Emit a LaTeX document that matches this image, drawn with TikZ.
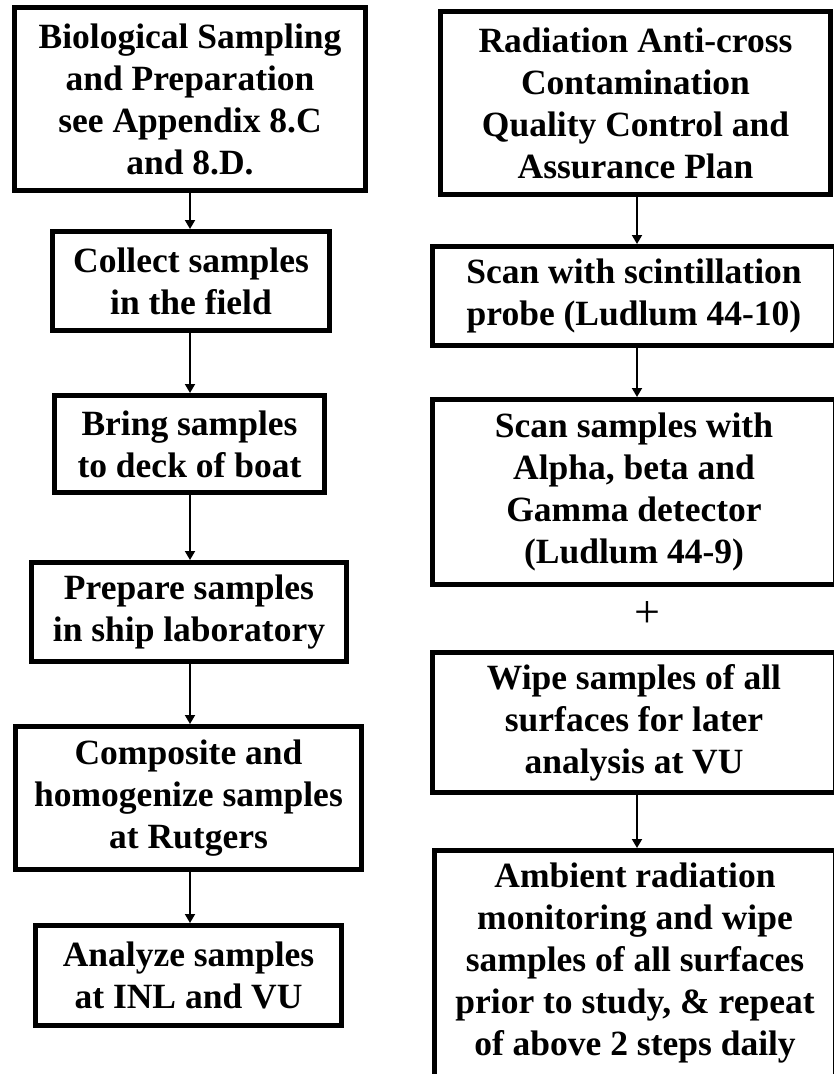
\documentclass[tikz,border=0pt]{standalone}
\usepackage{fontspec}
\setmainfont{Liberation Serif}
\usetikzlibrary{arrows.meta}
\tikzset{
  box/.style={draw=black, line width=5pt, align=center, inner sep=0pt,
    font=\bfseries\fontsize{35.5}{42}\selectfont},
  arr/.style={line width=1.8pt, -{Triangle[length=9pt,width=10pt]}},
  plus/.style={font=\fontsize{46}{46}\selectfont, inner sep=0pt}
}
\begin{document}
\begin{tikzpicture}[x=1pt,y=-1pt]
\useasboundingbox (0,0) rectangle (834,1074);
\clip (0,0) rectangle (834,1074);
\fill[white] (0,0) rectangle (834,1074);
% left column
\node[box, minimum width=351, minimum height=183] (L1) at (190,99)
  {Biological Sampling\\and Preparation\\see Appendix 8.C\\and 8.D.};
\node[box, minimum width=277, minimum height=99] (L2) at (191,281)
  {Collect samples\\in the field};
\node[box, minimum width=270, minimum height=97] (L3) at (189.5,444)
  {Bring samples\\to deck of boat};
\node[box, minimum width=315, minimum height=99] (L4) at (189,612)
  {Prepare samples\\in ship laboratory};
\node[box, minimum width=346, minimum height=143] (L5) at (188.5,798)
  {Composite and\\homogenize samples\\at Rutgers};
\node[box, minimum width=306, minimum height=100] (L6) at (188.5,975.5)
  {Analyze samples\\at INL and VU};
% right column
\node[box, minimum width=390, minimum height=183] (R1) at (635.5,103)
  {Radiation Anti-cross\\Contamination\\Quality Control and\\Assurance Plan};
\node[box, minimum width=403, minimum height=99] (R2) at (634,296)
  {Scan with scintillation\\probe (Ludlum 44-10)};
\node[box, minimum width=403, minimum height=185] (R3) at (634,492)
  {Scan samples with\\Alpha, beta and\\Gamma detector\\(Ludlum 44-9)};
\node[plus] (P) at (647,614) {+};
\node[box, minimum width=403, minimum height=140] (R4) at (634,722.5)
  {Wipe samples of all\\surfaces for later\\analysis at VU};
\node[box, minimum width=401, minimum height=287] (R5) at (635,994)
  {Ambient radiation\\monitoring and wipe\\samples of all surfaces\\prior to study, \& repeat\\of above 2 steps daily\rule[-70pt]{0pt}{0pt}};
% axes for connectors
\coordinate (axL) at (190,0);
\coordinate (axR) at (637,0);
\draw[arr] (axL |- L1.south) -- (axL |- L2.north);
\draw[arr] (axL |- L2.south) -- (axL |- L3.north);
\draw[arr] (axL |- L3.south) -- (axL |- L4.north);
\draw[arr] (axL |- L4.south) -- (axL |- L5.north);
\draw[arr] (axL |- L5.south) -- (axL |- L6.north);
\draw[arr] (axR |- R1.south) -- (axR |- R2.north);
\draw[arr] (axR |- R2.south) -- (axR |- R3.north);
\draw[arr] (axR |- R4.south) -- (axR |- R5.north);
\end{tikzpicture}
\end{document}
